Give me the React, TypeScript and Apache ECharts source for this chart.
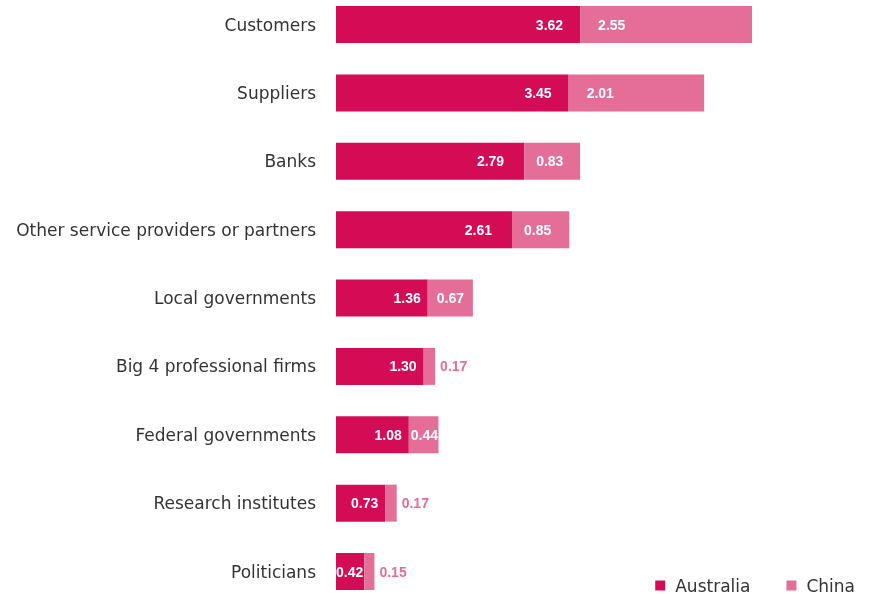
import React, { useEffect, useRef } from "react";
import * as echarts from "echarts";

const categories = [
  "Customers",
  "Suppliers",
  "Banks",
  "Other service providers or partners",
  "Local governments",
  "Big 4 professional firms",
  "Federal governments",
  "Research institutes",
  "Politicians",
];
const australia = [3.62, 3.45, 2.79, 2.61, 1.36, 1.3, 1.08, 0.73, 0.42];
const china = [2.55, 2.01, 0.83, 0.85, 0.67, 0.17, 0.44, 0.17, 0.15];

const AUS_COLOR = "#D30C55";
const CHN_COLOR = "#E46E98";
const FONT = "'Liberation Sans', Arial, sans-serif";
const AXIS_FONT = "'DejaVu Sans', sans-serif";

function ausDistance(v: number) {
  if (v >= 3) return 17;
  if (v >= 2) return 20;
  if (v >= 0.5) return 7;
  return 1;
}
function chnDistance(v: number) {
  if (v >= 2) return 18;
  if (v >= 0.8) return 12;
  if (v >= 0.5) return 9;
  return 2;
}

export default function App() {
  const ref = useRef<HTMLDivElement>(null);
  useEffect(() => {
    if (!ref.current) return;
    const chart = echarts.init(ref.current, undefined, { renderer: "svg" });
    chart.setOption({
      animation: false,
      textStyle: { fontFamily: FONT },
      grid: { left: 336, right: 61, top: 24.5, bottom: 22.5, containLabel: false },
      xAxis: { type: "value", min: 0, max: 7, show: false },
      yAxis: {
        type: "category",
        data: categories,
        inverse: true,
        boundaryGap: false,
        axisLine: { show: false },
        axisTick: { show: false },
        splitLine: { show: false },
        axisLabel: { color: "#333333", fontSize: 17, margin: 20, fontFamily: AXIS_FONT },
      },
      legend: {
        right: 14,
        bottom: 0,
        padding: 0,
        itemWidth: 10,
        itemHeight: 10,
        itemGap: 36,
        icon: "rect",
        textStyle: { fontSize: 17, color: "#333333", fontFamily: AXIS_FONT, padding: [0, 0, 0, 5] },
        data: ["Australia", "China"],
      },
      series: [
        {
          name: "Australia",
          type: "bar",
          stack: "total",
          barWidth: 37,
          itemStyle: { color: AUS_COLOR },
          label: {
            show: true,
            position: "insideRight",
            color: "#ffffff",
            fontWeight: "bold",
            fontSize: 14,
            fontFamily: FONT,
            formatter: (p: any) => Number(p.value).toFixed(2),
          },
          data: australia.map((v) => ({ value: v, label: { distance: ausDistance(v) } })),
        },
        {
          name: "China",
          type: "bar",
          stack: "total",
          barWidth: 37,
          itemStyle: { color: CHN_COLOR },
          label: {
            show: true,
            position: "insideLeft",
            color: "#ffffff",
            fontWeight: "bold",
            fontSize: 14,
            fontFamily: FONT,
            formatter: (p: any) => Number(p.value).toFixed(2),
          },
          data: china.map((v) =>
            v < 0.3
              ? { value: v, label: { position: "right", color: CHN_COLOR, distance: 5 } }
              : { value: v, label: { distance: chnDistance(v) } }
          ),
        },
      ],
    });
    return () => chart.dispose();
  }, []);
  return (
    <div
      ref={ref}
      style={{ position: "fixed", left: 0, top: 0, width: 869, height: 594 }}
    />
  );
}
